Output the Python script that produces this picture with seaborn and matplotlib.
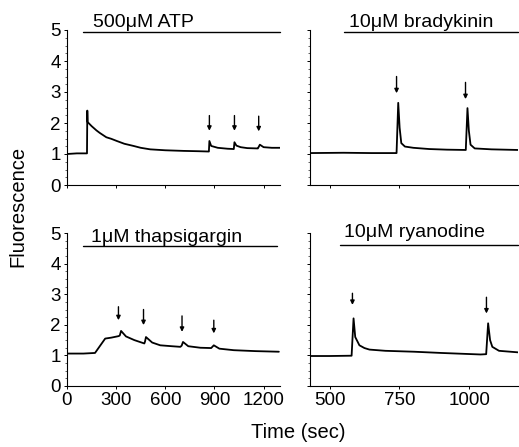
import matplotlib
matplotlib.use("Agg")
import matplotlib.pyplot as plt
import seaborn as sns
import pandas as pd
from matplotlib.ticker import MultipleLocator

sns.set_theme(style="ticks")
plt.rcParams['font.family'] = ['Liberation Sans', 'DejaVu Sans']
plt.rcParams['text.color'] = 'black'

# ---------------- data ----------------
atp_t = [0, 60, 122, 124, 126, 150, 180, 200, 240, 270, 304, 350, 406, 450, 508,
         600, 712, 800, 866, 869, 880, 920, 980, 1018, 1022, 1034, 1060, 1100, 1160,
         1165, 1177, 1200, 1250, 1300]
atp_f = [1.00, 1.02, 1.02, 2.40, 2.03, 1.90, 1.76, 1.68, 1.54, 1.49, 1.42, 1.33, 1.26, 1.20, 1.15,
         1.12, 1.10, 1.09, 1.08, 1.42, 1.26, 1.20, 1.17, 1.16, 1.38, 1.27, 1.22, 1.19, 1.18,
         1.18, 1.30, 1.22, 1.20, 1.20]
atp_arrows = [869, 1022, 1170]
atp_arrow_top = [2.24, 2.24, 2.22]
atp_arrow_tip = [1.75, 1.75, 1.73]

bk_t = [430, 550, 650, 740, 746, 751, 757, 770, 800, 857, 920, 988, 994, 999, 1005,
        1020, 1080, 1175]
bk_f = [1.03, 1.04, 1.03, 1.03, 2.65, 1.85, 1.35, 1.24, 1.20, 1.16, 1.14, 1.13, 2.48, 1.75, 1.30,
        1.18, 1.15, 1.13]
bk_arrows = [740, 987]
bk_arrow_top = [3.50, 3.31]
bk_arrow_tip = [2.96, 2.77]

th_t = [0, 100, 171, 200, 233, 270, 315, 322, 330, 360, 411, 472, 476, 482, 520,
        569, 640, 692, 700, 708, 740, 814, 880, 896, 930, 1018, 1150, 1293]
th_f = [1.06, 1.06, 1.08, 1.30, 1.55, 1.58, 1.63, 1.65, 1.80, 1.62, 1.50, 1.39, 1.45, 1.60, 1.42,
        1.33, 1.30, 1.28, 1.32, 1.44, 1.30, 1.25, 1.24, 1.33, 1.22, 1.17, 1.14, 1.12]
th_arrows = [314, 467, 702, 896]
th_arrow_top = [2.59, 2.50, 2.29, 2.15]
th_arrow_tip = [2.15, 1.99, 1.77, 1.72]

ry_t = [430, 500, 579, 586, 592, 607, 625, 643, 700, 803, 900, 1041, 1061, 1068, 1075,
        1083, 1107, 1175]
ry_f = [0.98, 0.98, 0.99, 2.21, 1.60, 1.33, 1.24, 1.19, 1.15, 1.12, 1.08, 1.03, 1.04, 2.05, 1.50,
        1.28, 1.15, 1.10]
ry_arrows = [582, 1062]
ry_arrow_top = [3.03, 2.90]
ry_arrow_tip = [2.65, 2.37]

titles = ["500\u03bcM ATP", "10\u03bcM bradykinin", "1\u03bcM thapsigargin", "10\u03bcM ryanodine"]
bar_start = [100, 550, 100, 536]
bar_end = [1300, 1175, 1283, 1175]
bar_level = [4.95, 4.95, 4.58, 4.61]
title_t = [468, 829, 605, 805]
title_level = [5.10, 5.10, 4.72, 4.86]

left_xticks = [0, 300, 600, 900, 1200]
right_xticks = [500, 750, 1000]
yticks = [0, 1, 2, 3, 4, 5]

traces = [(atp_t, atp_f, atp_arrows, atp_arrow_top, atp_arrow_tip),
          (bk_t, bk_f, bk_arrows, bk_arrow_top, bk_arrow_tip),
          (th_t, th_f, th_arrows, th_arrow_top, th_arrow_tip),
          (ry_t, ry_f, ry_arrows, ry_arrow_top, ry_arrow_tip)]

# ---------------- figure ----------------
W, H = 519, 447
fig = plt.figure(figsize=(W / 100, H / 100), dpi=100)

def box(x0, x1, ytop, ybot):
    return [x0 / W, 1 - ybot / H, (x1 - x0) / W, (ybot - ytop) / H]

rects = [box(67, 280, 30, 185), box(310, 518, 30, 185),
         box(67, 280, 233, 386), box(310, 518, 233, 386)]

FS_TICK = 13.5
FS_TITLE = 14
FS_LABEL = 14.5
for i, (t, f, arr, atop, atip) in enumerate(traces):
    ax = fig.add_axes(rects[i])
    df = pd.DataFrame({"t": t, "f": f})
    sns.lineplot(data=df, x="t", y="f", ax=ax, color="black", lw=1.3,
                 sort=False, estimator=None)
    for a, yt, yb in zip(arr, atop, atip):
        ax.annotate("", xy=(a, yb), xytext=(a, yt),
                    arrowprops=dict(arrowstyle="-|>", color="black", lw=1.0,
                                    mutation_scale=6, shrinkA=0, shrinkB=0))
    ax.plot([bar_start[i], bar_end[i]], [bar_level[i], bar_level[i]],
            color="black", lw=1.0, clip_on=False)
    ax.text(title_t[i], title_level[i], titles[i], ha="center", va="baseline",
            fontsize=FS_TITLE, color="black", clip_on=False)
    left = i % 2 == 0
    if left:
        ax.set_xlim(0, 1300)
        ax.set_xticks(left_xticks)
    else:
        ax.set_xlim(430, 1175)
        ax.set_xticks(right_xticks)
    ax.set_ylim(0, 5)
    ax.set_yticks(yticks)
    ax.yaxis.set_minor_locator(MultipleLocator(0.25))
    ax.set_xlabel("")
    ax.set_ylabel("")
    if not left:
        ax.set_yticklabels([])
    if i < 2:
        ax.set_xticklabels([])
    for s in ["top", "right"]:
        ax.spines[s].set_visible(False)
    for s in ["left", "bottom"]:
        ax.spines[s].set_linewidth(0.8)
        ax.spines[s].set_color("black")
    ax.tick_params(axis="both", which="major", length=2.5, width=0.7,
                   labelsize=FS_TICK, pad=2, colors="black")
    ax.tick_params(axis="y", which="minor", length=1.2, width=0.5)

fig.text(18 / W, 1 - 206 / H, "Fluorescence", rotation=90, ha="center", va="center",
         fontsize=FS_LABEL, color="black")
fig.text(298 / W, 1 - 433 / H, "Time (sec)", ha="center", va="center",
         fontsize=FS_LABEL, color="black")

fig.savefig("out.png", dpi=100)
